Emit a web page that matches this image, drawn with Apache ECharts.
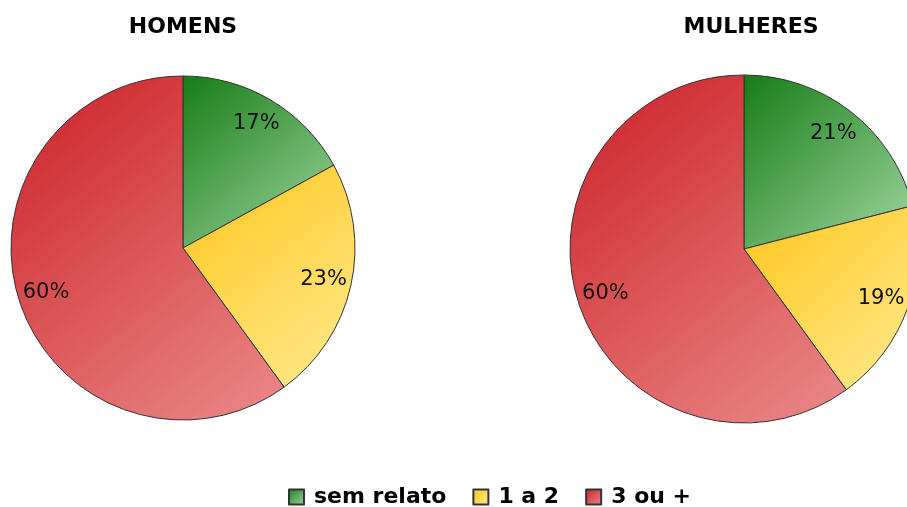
<!DOCTYPE html>
<html>
<head>
<meta charset="utf-8">
<script src="https://cdn.jsdelivr.net/npm/echarts@6/dist/echarts.min.js"></script>
<style>
html,body{margin:0;padding:0;background:#fff;}
#chart{width:907px;height:507px;}
</style>
</head>
<body>
<div id="chart"></div>
<script>
const categories = ['sem relato', '1 a 2', '3 ou +'];
const homens = [17, 23, 60];
const mulheres = [21, 19, 60];
const titles = ['HOMENS', 'MULHERES'];

const gradStops = [
  ['#157d15', '#a2d6a2'],
  ['#ffc61c', '#ffea90'],
  ['#cb2026', '#eb8a8a']
];
function grad(i) {
  return new echarts.graphic.LinearGradient(0, 0, 1, 1, [
    { offset: 0, color: gradStops[i][0] },
    { offset: 1, color: gradStops[i][1] }
  ]);
}
function mainData(vals) {
  return categories.map((c, i) => ({
    name: c, value: vals[i],
    itemStyle: { color: grad(i), borderColor: '#333', borderWidth: 1 }
  }));
}
function labelData(vals) {
  return categories.map((c, i) => ({ name: c, value: vals[i] }));
}
const font = 'DejaVu Sans, Verdana, sans-serif';
function pies(vals, center, r) {
  return [
    {
      type: 'pie', center: center, radius: r, startAngle: 90, clockwise: true,
      data: mainData(vals), label: { show: false }, labelLine: { show: false },
      silent: true, animation: false
    },
    {
      type: 'pie', center: center, radius: [r * 0.64, r], startAngle: 90, clockwise: true,
      data: labelData(vals), silent: true, animation: false, legendHoverLink: false,
      avoidLabelOverlap: false,
      itemStyle: { color: 'rgba(0,0,0,0)', borderWidth: 0 },
      label: { show: true, position: 'inside', formatter: '{c}%', color: '#111',
        fontFamily: font, fontSize: 21, fontWeight: 'normal' },
      labelLine: { show: false }
    }
  ];
}

const chart = echarts.init(document.getElementById('chart'), null, { renderer: 'canvas' });
chart.setOption({
  backgroundColor: '#fff',
  animation: false,
  title: [
    { text: titles[0], left: 178, top: 11, textAlign: 'center',
      textStyle: { fontFamily: font, fontSize: 22, fontWeight: 'bold', color: '#000' } },
    { text: titles[1], left: 746, top: 11, textAlign: 'center',
      textStyle: { fontFamily: font, fontSize: 22, fontWeight: 'bold', color: '#000' } }
  ],
  legend: {
    data: categories, left: 283, top: 481, itemWidth: 15, itemHeight: 15, itemGap: 26,
    icon: 'rect',
    textStyle: { fontFamily: font, fontSize: 22, fontWeight: 'bold', color: '#000',
      padding: [0, 0, 0, 5] }
  },
  series: [
    ...pies(homens, [183, 248], 172),
    ...pies(mulheres, [744, 249], 174)
  ]
});
</script>
</body>
</html>
